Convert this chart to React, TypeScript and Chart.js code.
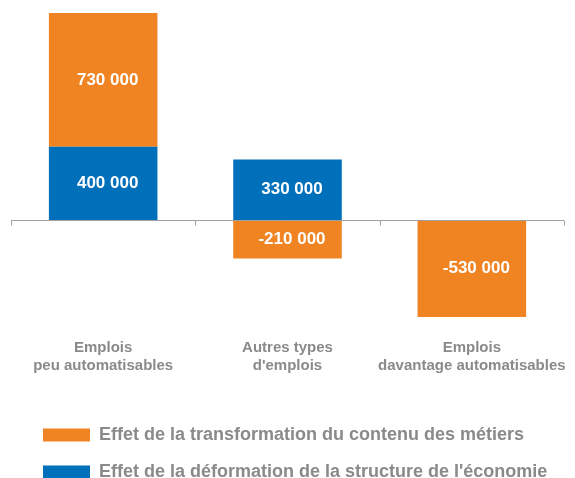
import React, { useEffect, useRef } from 'react';
import { Chart, registerables } from 'chart.js';

Chart.register(...registerables);

const categories: string[][] = [
  ['Emplois', 'peu automatisables'],
  ['Autres types', "d'emplois"],
  ['Emplois', 'davantage automatisables'],
];
const structureValues: (number | null)[] = [400000, 330000, null];
const transformationValues: (number | null)[] = [730000, -210000, -530000];
const structureLabel = "Effet de la déformation de la structure de l'économie";
const transformationLabel = 'Effet de la transformation du contenu des métiers';
const yMin = -620000;
const yMax = 1130000;

const BLUE = '#0070BA';
const ORANGE = '#F08322';
const GRAY_TEXT = '#8A8A8A';
const AXIS_GRAY = '#A0A0A0';
const FONT = "'Liberation Sans', Arial, sans-serif";

const fmt = (n: number) =>
  (n < 0 ? '-' : '') + Math.abs(n).toString().replace(/\B(?=(\d{3})+(?!\d))/g, ' ');

const zeroLinePlugin = {
  id: 'zeroLine',
  afterDatasetsDraw(chart: any) {
    const { ctx, chartArea, scales } = chart;
    const y = Math.round(scales.y.getPixelForValue(0)) + 0.5;
    ctx.save();
    ctx.strokeStyle = AXIS_GRAY;
    ctx.lineWidth = 1;
    ctx.beginPath();
    ctx.moveTo(chartArea.left, y);
    ctx.lineTo(chartArea.right, y);
    const n = categories.length;
    for (let i = 0; i <= n; i++) {
      const x = Math.round(scales.x.getPixelForValue(i - 0.5)) + 0.5;
      ctx.moveTo(x, y);
      ctx.lineTo(x, y + 5);
    }
    ctx.stroke();
    ctx.restore();
  },
};

const valueLabelPlugin = {
  id: 'valueLabels',
  afterDatasetsDraw(chart: any) {
    const { ctx } = chart;
    ctx.save();
    ctx.fillStyle = '#FFFFFF';
    ctx.font = `bold 17px ${FONT}`;
    ctx.textAlign = 'center';
    ctx.textBaseline = 'middle';
    chart.data.datasets.forEach((ds: any, di: number) => {
      const meta = chart.getDatasetMeta(di);
      meta.data.forEach((el: any, i: number) => {
        const v = ds.data[i];
        if (!v) return;
        const cy = (el.y + el.base) / 2;
        ctx.fillText(fmt(v), el.x + 4.5, cy);
      });
    });
    ctx.restore();
  },
};

const legendShiftPlugin = {
  id: 'legendShift',
  afterLayout(chart: any) {
    if (chart.legend) {
      chart.legend.left = 24;
    }
  },
};

export default function App() {
  const canvasRef = useRef<HTMLCanvasElement>(null);

  useEffect(() => {
    if (!canvasRef.current) return;
    Chart.defaults.font.family = FONT;
    const chart = new Chart(canvasRef.current, {
      type: 'bar',
      data: {
        labels: categories,
        datasets: [
          {
            label: structureLabel,
            data: structureValues,
            backgroundColor: BLUE,
            borderWidth: 0,
            barPercentage: 0.589,
            categoryPercentage: 1,
          },
          {
            label: transformationLabel,
            data: transformationValues,
            backgroundColor: ORANGE,
            borderWidth: 0,
            barPercentage: 0.589,
            categoryPercentage: 1,
          },
        ],
      },
      options: {
        responsive: true,
        maintainAspectRatio: false,
        animation: false,
        events: [],
        layout: { padding: { top: 13, left: 11, right: 11, bottom: -13 } },
        scales: {
          x: {
            stacked: true,
            grid: { display: false, drawTicks: false },
            border: { display: false },
            ticks: {
              color: GRAY_TEXT,
              font: { size: 15, weight: 'bold', lineHeight: 1.157 },
              padding: 6,
              maxRotation: 0,
              autoSkip: false,
            },
            title: {
              display: true,
              text: '',
              font: { size: 10, lineHeight: 1.2 },
              padding: { top: 14.8, bottom: 0 },
            },
          },
          y: {
            stacked: true,
            display: false,
            min: yMin,
            max: yMax,
          },
        },
        plugins: {
          tooltip: { enabled: false },
          legend: {
            display: true,
            position: 'bottom',
            align: 'start',
            reverse: true,
            labels: {
              boxWidth: 47,
              boxHeight: 13,
              padding: 19,
              color: GRAY_TEXT,
              font: { size: 18, weight: 'bold' },
            },
          },
        },
      },
      plugins: [zeroLinePlugin, valueLabelPlugin, legendShiftPlugin],
    } as any);
    return () => chart.destroy();
  }, []);

  return (
    <div style={{ position: 'fixed', left: 0, top: 0, width: 575, height: 478 }}>
      <canvas ref={canvasRef} />
    </div>
  );
}
